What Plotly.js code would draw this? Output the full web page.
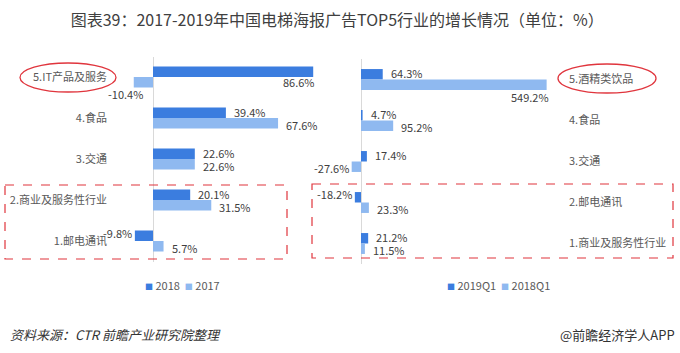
<!DOCTYPE html>
<html>
<head>
<meta charset="utf-8">
<script src="https://cdn.plot.ly/plotly-3.0.1.min.js"></script>
<style>html,body{margin:0;padding:0;background:#fff;}#chart{width:680px;height:353px;}</style>
</head>
<body>
<div id="chart"></div>
<script>
// ---- data ----
var leftCats = ['5.IT产品及服务', '4.食品', '3.交通', '2.商业及服务性行业', '1.邮电通讯'];
var left2018 = [86.6, 39.4, 22.6, 20.1, -9.8];
var left2017 = [-10.4, 67.6, 22.6, 31.5, 5.7];
var rightCats = ['5.酒精类饮品', '4.食品', '3.交通', '2.邮电通讯', '1.商业及服务性行业'];
var right2019Q1 = [64.3, 4.7, 17.4, -18.2, 21.2];
var right2018Q1 = [549.2, 95.2, -27.6, 23.3, 11.5];
var leftNames = ['2018', '2017'];
var rightNames = ['2019Q1', '2018Q1'];
var titleText = '图表39：2017-2019年中国电梯海报广告TOP5行业的增长情况（单位：%）';
var sourceText = '资料来源：CTR 前瞻产业研究院整理';
var brandText = '@前瞻经济学人APP';

// ---- layout helpers ----
var W = 680, H = 353;
function px(x) { return x / W; }
function py(y) { return 1 - y / H; }
var DARK = '#3b7ddf', LIGHT = '#8fb9f0';
var FONT = '"Noto Sans CJK SC", "Noto Sans", sans-serif';

var L0 = 153, LS = 1.85, Ld = [108, 330];
var R0 = 361, RS = 0.338, Rd = [330, 568];
var leftRange = [-(L0 - Ld[0]) / LS, (Ld[1] - L0) / LS];
var rightRange = [-(R0 - Rd[0]) / RS, (Rd[1] - R0) / RS];

function bar(name, cats, vals, color, xa, ya) {
  return {type: 'bar', orientation: 'h', name: name, y: cats, x: vals,
    marker: {color: color}, xaxis: xa, yaxis: ya, showlegend: false,
    hoverinfo: 'x+y'};
}

var data = [
  bar(leftNames[0], leftCats, left2018, DARK, 'x', 'y'),
  bar(leftNames[1], leftCats, left2017, LIGHT, 'x', 'y'),
  bar(rightNames[0], rightCats, right2019Q1, DARK, 'x2', 'y2'),
  bar(rightNames[1], rightCats, right2018Q1, LIGHT, 'x2', 'y2')
];

var annotations = [];
var LBL = {size: 11, color: '#404040', family: FONT};
function labels(cats, vals, xr, yr, dy, axMax, negBelow) {
  vals.forEach(function (v, i) {
    var a = {x: v, y: cats[i], xref: xr, yref: yr, text: v.toFixed(1) + '%',
      showarrow: false, font: LBL,
      yshift: dy, xanchor: v >= 0 ? 'left' : 'right', xshift: v >= 0 ? 6 : -1};
    if (v < 0 && !negBelow && dy > 0) { a.yshift = dy + 2; }
    if (v < 0 && negBelow) { a.x = 0; a.xanchor = 'right'; a.xshift = -8; a.yshift = dy - 10; }
    if (v > axMax * 0.85) { a.xanchor = 'right'; a.xshift = 4; a.yshift = dy - 11; }
    annotations.push(a);
  });
}
labels(leftCats, left2018, 'x', 'y', 6.5, leftRange[1], false);
labels(leftCats, left2017, 'x', 'y', -6.5, leftRange[1], true);
labels(rightCats, right2019Q1, 'x2', 'y2', 6.5, rightRange[1], false);
labels(rightCats, right2018Q1, 'x2', 'y2', -6.5, rightRange[1], false);

// legends (text with square glyph markers)
function sq(c) { return '<span style="color:' + c + ';font-size:8px">■</span>'; }
function legendText(names) {
  return sq(DARK) + ' ' + names[0] + '&nbsp;&nbsp;' + sq(LIGHT) + ' ' + names[1];
}
annotations.push({xref: 'paper', yref: 'paper', x: px(143), y: py(285), xanchor: 'left', yanchor: 'middle',
  text: legendText(leftNames), showarrow: false, font: {size: 11, color: '#595959', family: FONT}});
annotations.push({xref: 'paper', yref: 'paper', x: px(445), y: py(285), xanchor: 'left', yanchor: 'middle',
  text: legendText(rightNames), showarrow: false, font: {size: 11, color: '#595959', family: FONT}});

annotations.push({xref: 'paper', yref: 'paper', x: px(8), y: py(334), xanchor: 'left', yanchor: 'middle',
  text: '<i>' + sourceText + '</i>', showarrow: false, font: {size: 13, color: '#333', family: FONT}});
annotations.push({xref: 'paper', yref: 'paper', x: px(677), y: py(334), xanchor: 'right', yanchor: 'middle',
  text: brandText, showarrow: false, font: {size: 13, color: '#333', family: FONT}});

var RED = '#e0353d';
var shapes = [
  {type: 'rect', xref: 'paper', yref: 'paper', x0: px(5), x1: px(287), y0: py(185), y1: py(259),
    line: {color: RED, width: 1.2, dash: 'dash'}},
  {type: 'rect', xref: 'paper', yref: 'paper', x0: px(312), x1: px(673), y0: py(184), y1: py(258),
    line: {color: RED, width: 1.2, dash: 'dash'}},
  {type: 'circle', xref: 'paper', yref: 'paper', x0: px(20), x1: px(116), y0: py(63), y1: py(92),
    line: {color: RED, width: 1.3}},
  {type: 'circle', xref: 'paper', yref: 'paper', x0: px(558), x1: px(656), y0: py(64), y1: py(93),
    line: {color: RED, width: 1.3}}
];

var xCommon = {showgrid: false, showticklabels: false, ticks: '', showline: false,
  zeroline: true, zerolinecolor: '#d9d9d9', zerolinewidth: 1, fixedrange: true};
var yCommon = {type: 'category', showgrid: false, ticks: '', showline: false, zeroline: false,
  tickfont: {size: 11, color: '#595959', family: FONT}, range: [4.5, -0.5], fixedrange: true};

var layout = {
  width: W, height: H,
  margin: {l: 0, r: 0, t: 0, b: 0},
  paper_bgcolor: '#fff', plot_bgcolor: 'rgba(0,0,0,0)',
  font: {family: FONT, color: '#404040'},
  title: {text: titleText, x: 0.496, xanchor: 'center', y: py(20), yanchor: 'middle', yref: 'container',
    font: {size: 16, color: '#404040', family: FONT}},
  barmode: 'group', bargap: 0.49, bargroupgap: 0,
  xaxis: Object.assign({}, xCommon, {domain: [px(Ld[0]), px(Ld[1])], range: leftRange, anchor: 'y'}),
  yaxis: Object.assign({}, yCommon, {domain: [py(261.5), py(56.5)], anchor: 'x', side: 'left'}),
  xaxis2: Object.assign({}, xCommon, {domain: [px(Rd[0]), px(Rd[1])], range: rightRange, anchor: 'y2'}),
  yaxis2: Object.assign({}, yCommon, {domain: [py(264), py(59)], anchor: 'x2', side: 'right'}),
  annotations: annotations,
  shapes: shapes,
  showlegend: false
};

Plotly.newPlot('chart', data, layout, {displayModeBar: false, staticPlot: true});
</script>
</body>
</html>
